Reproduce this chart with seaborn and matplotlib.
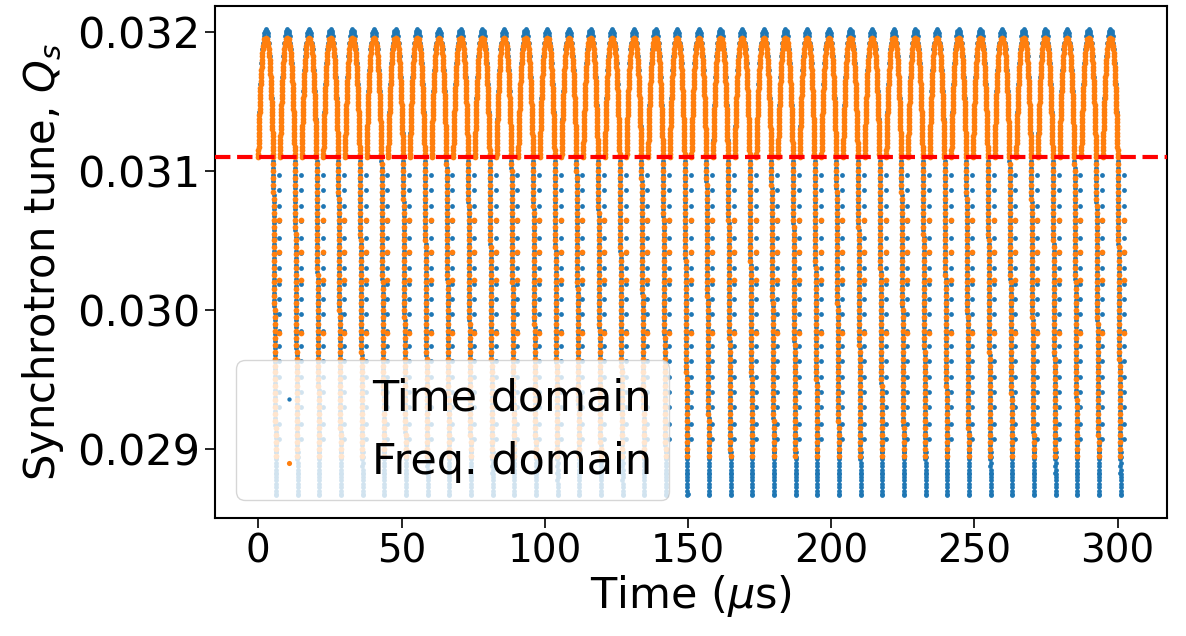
import numpy as np
import pandas as pd
import matplotlib
matplotlib.use("Agg")
import matplotlib.pyplot as plt
import seaborn as sns

# Start time (µs) of each modulation cycle
cycle_starts = [0.00, 7.56, 15.12, 22.68, 30.24, 37.80, 45.36, 52.92, 60.48, 68.04,
                75.60, 83.16, 90.72, 98.28, 105.84, 113.40, 120.96, 128.52, 136.08, 143.64,
                151.20, 158.76, 166.32, 173.88, 181.44, 189.00, 196.56, 204.12, 211.68, 219.24,
                226.80, 234.36, 241.92, 249.48, 257.04, 264.60, 272.16, 279.72, 287.28, 294.84]

# ---- Frequency-domain tune over one cycle (time relative to cycle start, µs) ----
# rising side of the arch
freq_rise_t = [0.000, 0.031, 0.062, 0.093, 0.125, 0.158, 0.192, 0.226, 0.261, 0.297,
               0.334, 0.371, 0.410, 0.450, 0.490, 0.532, 0.576, 0.620, 0.667, 0.715,
               0.765, 0.817, 0.871, 0.928, 0.989, 1.053, 1.121, 1.194, 1.273, 1.360,
               1.458, 1.570, 1.704, 1.877, 2.162, 2.600]
freq_rise_q = [0.031100, 0.031125, 0.031150, 0.031175, 0.031200, 0.031225, 0.031250, 0.031275,
               0.031300, 0.031325, 0.031350, 0.031375, 0.031400, 0.031425, 0.031450, 0.031475,
               0.031500, 0.031525, 0.031550, 0.031575, 0.031600, 0.031625, 0.031650, 0.031675,
               0.031700, 0.031725, 0.031750, 0.031775, 0.031800, 0.031825, 0.031850, 0.031875,
               0.031900, 0.031925, 0.031950, 0.031960]
# falling side of the arch
freq_fall_t = [3.038, 3.323, 3.496, 3.630, 3.742, 3.840, 3.927, 4.006, 4.079, 4.147,
               4.211, 4.272, 4.329, 4.383, 4.435, 4.485, 4.533, 4.580, 4.624, 4.668,
               4.710, 4.750, 4.790, 4.829, 4.866, 4.903, 4.939, 4.974, 5.008, 5.042,
               5.075, 5.107, 5.138, 5.170, 5.200]
freq_fall_q = [0.031950, 0.031925, 0.031900, 0.031875, 0.031850, 0.031825, 0.031800, 0.031775,
               0.031750, 0.031725, 0.031700, 0.031675, 0.031650, 0.031625, 0.031600, 0.031575,
               0.031550, 0.031525, 0.031500, 0.031475, 0.031450, 0.031425, 0.031400, 0.031375,
               0.031350, 0.031325, 0.031300, 0.031275, 0.031250, 0.031225, 0.031200, 0.031175,
               0.031150, 0.031125, 0.031100]
# steep drop after the arch
freq_drop_t = [5.22, 5.24, 5.26, 5.28, 5.30, 5.33, 5.35, 5.37, 5.39, 5.41, 5.43, 5.45, 5.47,
               5.49, 5.51, 5.53, 5.55, 5.58, 5.60, 5.62, 5.64, 5.66, 5.68, 5.70, 5.72, 5.74,
               5.76, 5.78, 5.81, 5.83, 5.85, 5.87, 5.89, 5.91, 5.93, 5.95, 5.97, 5.99, 6.01,
               6.04, 6.06, 6.08, 6.10]
freq_drop_q = [0.03105, 0.03100, 0.03095, 0.03090, 0.03085, 0.03080, 0.03075, 0.03070, 0.03065,
               0.03060, 0.03055, 0.03050, 0.03045, 0.03040, 0.03035, 0.03030, 0.03025, 0.03020,
               0.03015, 0.03010, 0.03005, 0.03000, 0.02995, 0.02990, 0.02985, 0.02980, 0.02975,
               0.02970, 0.02965, 0.02960, 0.02955, 0.02950, 0.02945, 0.02940, 0.02935, 0.02930,
               0.02925, 0.02920, 0.02915, 0.02910, 0.02905, 0.02900, 0.02895]
# isolated estimates between cycles
freq_gap_t = [7.30, 7.30, 7.30, 7.30]
freq_gap_q = [0.030645, 0.030419, 0.030216, 0.029836]

# ---- Time-domain tune over one cycle ----
time_rise_t = [0.028, 0.087, 0.148, 0.210, 0.276, 0.344, 0.416, 0.491, 0.571, 0.656,
               0.746, 0.844, 0.950, 1.068, 1.202, 1.358, 1.552, 1.822, 1.985, 2.174, 2.600]
time_rise_q = [0.031125, 0.031175, 0.031225, 0.031275, 0.031325, 0.031375, 0.031425, 0.031475,
               0.031525, 0.031575, 0.031625, 0.031675, 0.031725, 0.031775, 0.031825, 0.031875,
               0.031925, 0.031975, 0.031995, 0.032010, 0.032020]
time_fall_t = [3.026, 3.215, 3.378, 3.648, 3.842, 3.998, 4.132, 4.250, 4.356, 4.454,
               4.544, 4.629, 4.709, 4.784, 4.856, 4.924, 4.990, 5.052, 5.113, 5.172]
time_fall_q = [0.032010, 0.031995, 0.031975, 0.031925, 0.031875, 0.031825, 0.031775, 0.031725,
               0.031675, 0.031625, 0.031575, 0.031525, 0.031475, 0.031425, 0.031375, 0.031325,
               0.031275, 0.031225, 0.031175, 0.031125]
time_drop_t = [5.21, 5.23, 5.25, 5.27, 5.29, 5.31, 5.34, 5.36, 5.38, 5.40, 5.42, 5.44, 5.46,
               5.48, 5.50, 5.52, 5.54, 5.56, 5.59, 5.61, 5.63, 5.65, 5.67, 5.69, 5.71, 5.73,
               5.75, 5.77, 5.80, 5.82, 5.84, 5.86, 5.88, 5.90, 5.92, 5.94, 5.96, 5.98, 6.00,
               6.03, 6.05, 6.07, 6.09, 6.11, 6.13, 6.15, 6.17, 6.19, 6.21]
time_drop_q = [0.031075, 0.031025, 0.030975, 0.030925, 0.030875, 0.030825, 0.030775, 0.030725,
               0.030675, 0.030625, 0.030575, 0.030525, 0.030475, 0.030425, 0.030375, 0.030325,
               0.030275, 0.030225, 0.030175, 0.030125, 0.030075, 0.030025, 0.029975, 0.029925,
               0.029875, 0.029825, 0.029775, 0.029725, 0.029675, 0.029625, 0.029575, 0.029525,
               0.029475, 0.029425, 0.029375, 0.029325, 0.029275, 0.029225, 0.029175, 0.029125,
               0.029075, 0.029025, 0.028975, 0.028925, 0.028875, 0.028825, 0.028775, 0.028725,
               0.028675]
# samples clustered at the bottom of the drop
time_floor_t = [6.20, 6.20, 6.20, 6.20, 6.20, 6.20, 6.20, 6.20, 6.20]
time_floor_q = [0.02898, 0.02890, 0.02885, 0.02880, 0.02875, 0.02870, 0.02867, 0.02894,
                0.02882]
# sparse samples taken while the tune jumps back up
time_jump_t = [7.30] * 18
time_jump_q = [0.03097, 0.03086, 0.03075, 0.03064, 0.03052, 0.03041, 0.03030, 0.03019,
               0.03008, 0.02997, 0.02985, 0.02974, 0.02963, 0.02952, 0.02941, 0.02930,
               0.02918, 0.02907]

q_threshold = 0.0311


def build(label, t_parts, q_parts):
    t_cycle = np.concatenate([np.asarray(p, dtype=float) for p in t_parts])
    q_cycle = np.concatenate([np.asarray(p, dtype=float) for p in q_parts])
    t_all = np.concatenate([s + t_cycle for s in cycle_starts])
    q_all = np.tile(q_cycle, len(cycle_starts))
    return pd.DataFrame({"time": t_all, "tune": q_all, "method": label})


time_df = build("Time domain",
                [time_rise_t, time_fall_t, time_drop_t, time_floor_t, time_jump_t],
                [time_rise_q, time_fall_q, time_drop_q, time_floor_q, time_jump_q])
freq_df = build("Freq. domain",
                [freq_rise_t, freq_fall_t, freq_drop_t, freq_gap_t],
                [freq_rise_q, freq_fall_q, freq_drop_q, freq_gap_q])

sns.set_style("ticks")
plt.rcParams["font.family"] = ["DejaVu Sans"]
plt.rcParams["mathtext.fontset"] = "dejavusans"
plt.rcParams["text.color"] = "black"
plt.rcParams["axes.labelcolor"] = "black"

fig = plt.figure(figsize=(11.86, 6.36), dpi=100)
ax = fig.add_axes([0.1813, 0.1855, 0.8027, 0.805])

sns.scatterplot(data=time_df, x="time", y="tune", color="#1f77b4", s=12,
                linewidth=0, label="Time domain", ax=ax, zorder=2)
sns.scatterplot(data=freq_df, x="time", y="tune", color="#ff7f0e", s=17,
                linewidth=0, label="Freq. domain", ax=ax, zorder=3)
ax.axhline(q_threshold, color="red", linestyle="--", linewidth=3, zorder=4)

ax.set_xlabel(r"Time ($\mu$s)", fontsize=31, labelpad=2)
ax.set_ylabel(r"Synchrotron tune, $Q_s$", fontsize=30, labelpad=8)
ax.set_xticks([0, 50, 100, 150, 200, 250, 300])
ax.set_yticks([0.029, 0.030, 0.031, 0.032])
ax.yaxis.set_major_formatter(matplotlib.ticker.FormatStrFormatter("%.3f"))
ax.tick_params(length=7, width=1.2, colors="black")
ax.tick_params(axis="x", labelsize=28)
ax.tick_params(axis="y", labelsize=31)
for sp in ax.spines.values():
    sp.set_color("black")
    sp.set_linewidth(1.5)

leg = ax.legend(loc="lower left", bbox_to_anchor=(0.022, 0.035), borderaxespad=0,
                fontsize=31, markerscale=0.9, handlelength=1.67, handletextpad=1.09,
                framealpha=0.8)
for t in leg.get_texts():
    t.set_color("black")

fig.savefig("out.png", dpi=100)
